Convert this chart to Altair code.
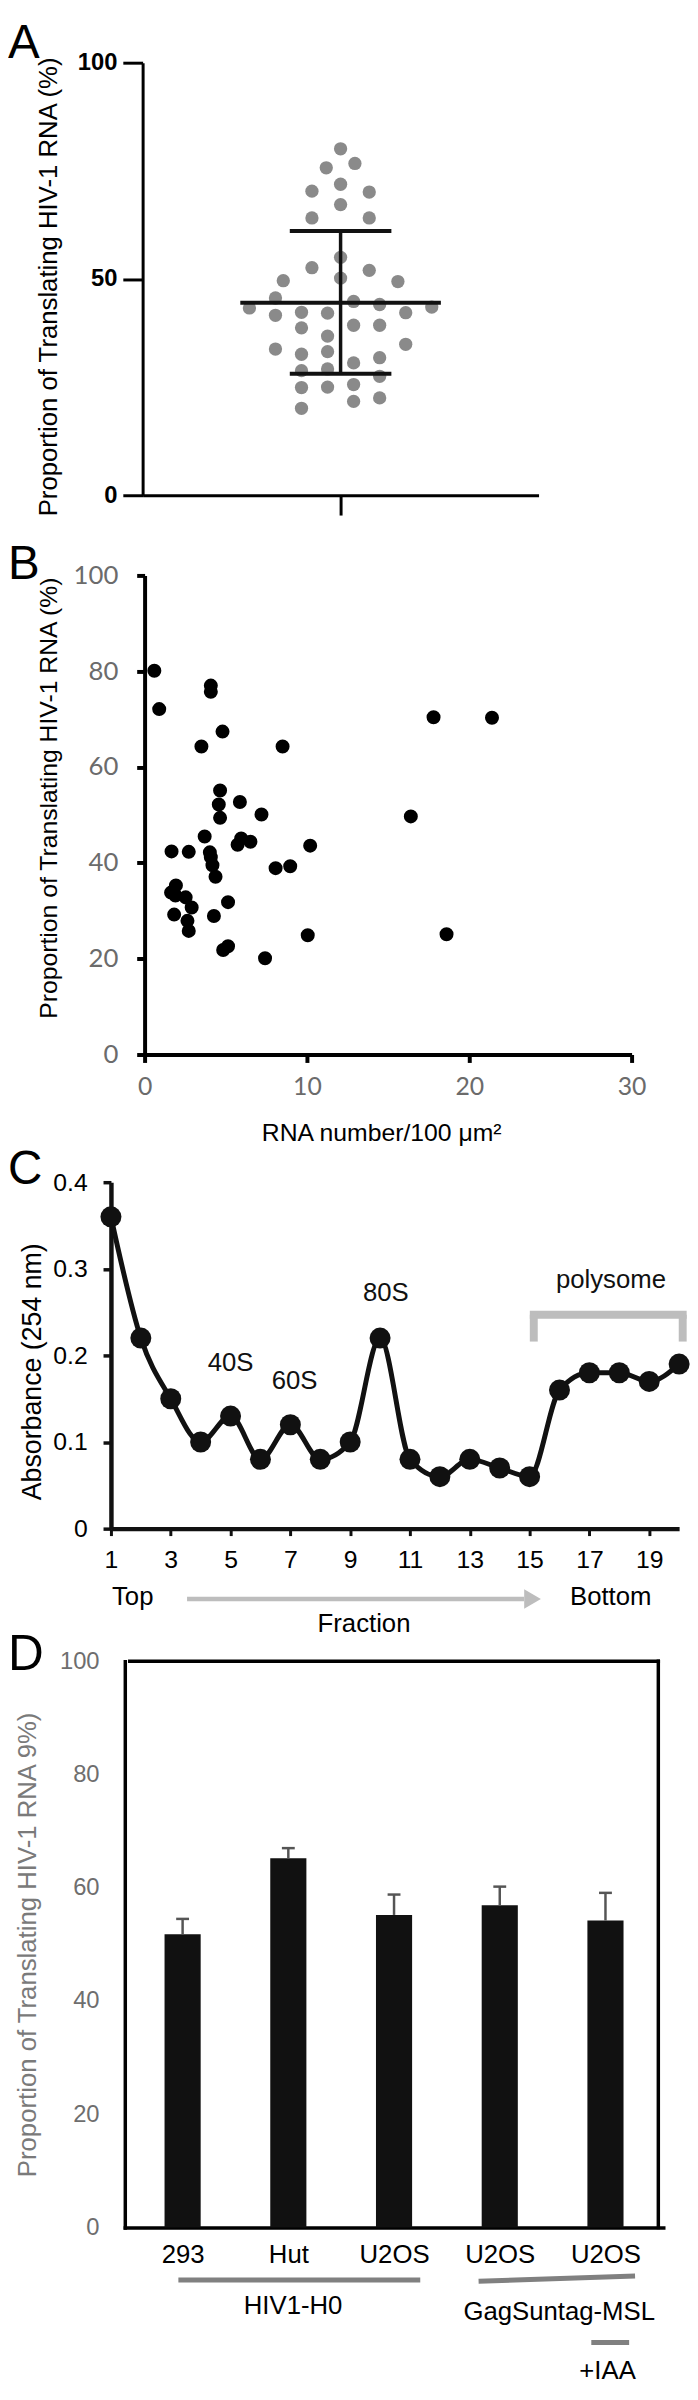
import json
import altair as alt
import pandas as pd

FONT = "Liberation Sans, Arial, Helvetica, sans-serif"
LATO = "Lato, Liberation Sans, sans-serif"

panel_letters = ["A", "B", "C", "D"]

# ---------------- Panel A : dot plot ----------------
a_values = [80.1, 75.7, 76.7, 70.3, 71.9, 70.1, 67.2, 64.1, 64.1, 55.0,
            52.6, 52.0, 49.6, 50.2, 49.4, 45.6, 43.3, 44.8, 44.1, 43.5,
            41.6, 42.3, 42.1, 42.2, 38.7, 39.3, 39.3, 36.8, 33.8, 34.9,
            32.6, 33.2, 30.6, 31.8, 28.8, 29.2, 27.5, 24.9, 25.0, 25.6,
            21.7, 22.5, 20.1]
a_column = [0, -0.55, 0.55, -1.1, 0, 1.1, 0, -1.1, 1.1, 0,
            -1.1, 1.1, -2.2, 0, 2.2, -2.5, -3.5, 0.5, 1.5, 3.5,
            -2.5, -1.5, -0.5, 2.5, -1.5, 0.5, 1.5, -0.5, -2.5, 2.5,
            -1.5, -0.5, 0.5, 1.5, -1.5, -0.5, 1.5, -1.5, -0.5, 0.5,
            0.5, 1.5, -1.5]
a_mean = 44.5
a_sd_hi = 61.1
a_sd_lo = 28.1
a_mean_half = 3.85
a_sd_half = 1.95

# ---------------- Panel B : scatter ----------------
b_density = [0.6, 0.9, 4.08, 4.08, 17.8, 21.4, 4.8, 3.5, 8.5, 4.65,
             5.87, 4.57, 7.2, 16.4, 4.65, 3.7, 5.95, 5.73, 6.52, 10.2,
             1.66, 2.72, 4.02, 4.08, 4.18, 8.07, 8.97, 4.37, 1.93, 1.63,
             1.9, 2.53, 2.9, 5.14, 1.82, 4.27, 2.64, 2.72, 10.05, 18.6,
             5.14, 4.84, 7.42]
b_prop = [80.1, 72.1, 77.0, 75.7, 70.4, 70.3, 67.4, 64.3, 64.3, 55.1,
          52.7, 52.2, 50.1, 49.7, 49.4, 45.5, 45.1, 43.8, 44.4, 43.6,
          42.4, 42.3, 42.2, 41.2, 39.5, 38.9, 39.3, 37.1, 35.3, 33.8,
          33.2, 32.8, 30.7, 31.8, 29.2, 28.9, 27.9, 25.8, 24.9, 25.1,
          22.6, 21.8, 20.1]

# ---------------- Panel C : polysome profile ----------------
c_fraction = list(range(1, 21))
c_absorb = [0.36, 0.22, 0.15, 0.10, 0.13, 0.08, 0.12, 0.08, 0.10, 0.22,
            0.08, 0.06, 0.08, 0.07, 0.06, 0.16, 0.18, 0.18, 0.17, 0.19]
c_peak_labels = ["40S", "60S", "80S", "polysome"]
c_peak_x = [5.0, 7.14, 10.19, 17.72]
c_peak_y = [0.191, 0.170, 0.272, 0.287]
c_bracket_x = [15.14, 20.12]
c_bracket_top = 0.247
c_bracket_bottom = 0.216
c_axis_notes = ["Top", "Fraction", "Bottom"]
c_axis_notes_x = [0.528, 2.716, 5.05]     # in panel D units (drawn above panel D)
c_axis_notes_y = [111.4, 106.6, 111.4]
c_arrow_x = [1.042, 4.23]
c_arrow_head_x = 4.31
c_arrow_y = 111.0

# ---------------- Panel D : bars ----------------
d_labels = ["293", "Hut", "U2OS", "U2OS", "U2OS"]
d_pos = [1, 2, 3, 4, 5]
d_values = [51.8, 65.2, 55.2, 56.9, 54.2]
d_err = [54.5, 67.0, 58.8, 60.2, 59.1]
d_group_labels = ["HIV1-H0", "GagSuntag-MSL", "+IAA"]
d_group_text_x = [2.045, 4.562, 5.02]
d_group_text_y = [-13.9, -15.0, -25.3]
d_group_line_x1 = [0.96, 3.80, 4.866]
d_group_line_x2 = [3.248, 5.28, 5.224]
d_group_line_y1 = [-9.27, -9.5, -20.3]
d_group_line_y2 = [-9.27, -8.57, -20.3]

W = 580
H_A, H_B, H_C, H_D = 512, 626, 438, 808
LETTER_X = -104


def letter_layer(ch, y, size=48):
    return alt.Chart(pd.DataFrame({"t": [ch]})).mark_text(
        align="left", baseline="top", font=FONT, fontSize=size, color="#000000"
    ).encode(text="t:N", x=alt.value(LETTER_X), y=alt.value(y))


# ================= Panel A =================
a_xs = alt.Scale(domain=[-7.6, 7.6], range=[32, 432])
a_ys = alt.Scale(domain=[0, 100], range=[480, 43])
a_xaxis = alt.Axis(values=[0], labels=False, title=None, tickSize=20, tickWidth=3,
                   tickColor="#000000", domainWidth=3, domainColor="#000000", offset=-32)
a_yaxis = alt.Axis(values=[0, 50, 100], title="Proportion of Translating HIV-1 RNA (%)",
                   titleFont=FONT, titleFontSize=26, titleFontWeight="normal", titleColor="#000000",
                   titleX=-95, titleY=269, titleAngle=270, titleBaseline="middle", titleAlign="center",
                   labelFont=FONT, labelFontSize=24, labelFontWeight="bold", labelColor="#000000",
                   labelPadding=6, tickSize=20, tickWidth=3, tickColor="#000000",
                   domainWidth=3, domainColor="#000000", offset=-32)

a_df = pd.DataFrame({"col": a_column, "pct": a_values})
a_points = alt.Chart(a_df).mark_circle(size=180, color="#8a8a8a", opacity=1).encode(
    x=alt.X("col:Q", scale=a_xs, axis=a_xaxis),
    y=alt.Y("pct:Q", scale=a_ys, axis=a_yaxis),
)
a_h_df = pd.DataFrame({"col": [-a_mean_half, -a_sd_half, -a_sd_half],
                       "col2": [a_mean_half, a_sd_half, a_sd_half],
                       "pct": [a_mean, a_sd_hi, a_sd_lo]})
a_hlines = alt.Chart(a_h_df).mark_rule(color="#111111", strokeWidth=4).encode(
    x=alt.X("col:Q", scale=a_xs, axis=a_xaxis), x2="col2:Q",
    y=alt.Y("pct:Q", scale=a_ys, axis=a_yaxis))
a_v_df = pd.DataFrame({"col": [0], "pct": [a_sd_lo], "pct2": [a_sd_hi]})
a_vline = alt.Chart(a_v_df).mark_rule(color="#111111", strokeWidth=3.5).encode(
    x=alt.X("col:Q", scale=a_xs, axis=a_xaxis),
    y=alt.Y("pct:Q", scale=a_ys, axis=a_yaxis), y2="pct2:Q")

panel_a = alt.layer(a_points, a_vline, a_hlines, letter_layer(panel_letters[0], 0)).properties(
    width=W, height=H_A)

# ================= Panel B =================
b_xs = alt.Scale(domain=[0, 30], range=[34, 526])
b_ys = alt.Scale(domain=[0, 100], range=[533, 49])
b_df = pd.DataFrame({"density": b_density, "prop": b_prop})
b_points = alt.Chart(b_df).mark_circle(size=200, color="#000000", opacity=1).encode(
    x=alt.X("density:Q", scale=b_xs, axis=alt.Axis(
        values=[0, 10, 20, 30], title="RNA number/100 \u03bcm\u00b2",
        titleFont=FONT, titleFontSize=25, titleFontWeight="normal", titleColor="#000000",
        titleX=273, titleY=79, titleBaseline="middle", titleAlign="center",
        labelFont=LATO, labelFontSize=25, labelColor="#6b6b6b", labelPadding=12,
        tickSize=8, tickWidth=4, tickColor="#000000",
        domainWidth=4, domainColor="#000000", offset=-93)),
    y=alt.Y("prop:Q", scale=b_ys, axis=alt.Axis(
        values=[0, 20, 40, 60, 80, 100], title="Proportion of Translating HIV-1 RNA (%)",
        titleFont=FONT, titleFontSize=25, titleFontWeight="normal", titleColor="#000000",
        titleX=-97, titleY=273.5, titleAngle=270, titleBaseline="middle", titleAlign="center",
        labelFont=LATO, labelFontSize=26, labelColor="#6b6b6b", labelPadding=19,
        tickSize=8, tickWidth=4, tickColor="#000000",
        domainWidth=4, domainColor="#000000", offset=-34)),
)
panel_b = alt.layer(b_points, letter_layer(panel_letters[1], 14.5)).properties(width=W, height=H_B)

# ================= Panel C =================
c_xs = alt.Scale(domain=[1, 20], range=[0, 574])
c_ys = alt.Scale(domain=[0, 0.4], range=[386, 36])
c_xaxis = alt.Axis(values=list(range(1, 20, 2)), title=None,
                   labelFont=FONT, labelFontSize=25, labelColor="#000000", labelPadding=12,
                   tickSize=7, tickWidth=3, tickColor="#111111",
                   domainWidth=4.5, domainColor="#111111", offset=-52)
c_yaxis = alt.Axis(values=[0, 0.1, 0.2, 0.3, 0.4], format=".1~f", title="Absorbance (254 nm)",
                   titleFont=FONT, titleFontSize=27, titleFontWeight="normal", titleColor="#000000",
                   titleX=-79, titleY=227, titleAngle=270, titleBaseline="middle", titleAlign="center",
                   labelFont=FONT, labelFontSize=25, labelColor="#000000", labelPadding=16,
                   tickSize=8, tickWidth=3.5, tickColor="#111111",
                   domainWidth=4.5, domainColor="#111111")

c_df = pd.DataFrame({"fraction": c_fraction, "absorb": c_absorb})
c_line = alt.Chart(c_df).mark_line(color="#111111", strokeWidth=5, interpolate="monotone").encode(
    x=alt.X("fraction:Q", scale=c_xs, axis=c_xaxis),
    y=alt.Y("absorb:Q", scale=c_ys, axis=c_yaxis),
)
c_pts = alt.Chart(c_df).mark_circle(size=450, color="#111111", opacity=1).encode(
    x=alt.X("fraction:Q", scale=c_xs, axis=c_xaxis),
    y=alt.Y("absorb:Q", scale=c_ys, axis=c_yaxis))
c_lab_df = pd.DataFrame({"t": c_peak_labels, "fraction": c_peak_x, "absorb": c_peak_y})
c_labels = alt.Chart(c_lab_df).mark_text(font=FONT, fontSize=26, color="#111111",
                                         baseline="middle", align="center").encode(
    x=alt.X("fraction:Q", scale=c_xs, axis=c_xaxis),
    y=alt.Y("absorb:Q", scale=c_ys, axis=c_yaxis), text="t:N")
c_br_h_df = pd.DataFrame({"fraction": [c_bracket_x[0]], "fraction2": [c_bracket_x[1]],
                          "absorb": [c_bracket_top]})
c_br_h = alt.Chart(c_br_h_df).mark_rule(color="#bdbdbd", strokeWidth=8, strokeCap="square").encode(
    x=alt.X("fraction:Q", scale=c_xs, axis=c_xaxis), x2="fraction2:Q",
    y=alt.Y("absorb:Q", scale=c_ys, axis=c_yaxis))
c_br_v_df = pd.DataFrame({"fraction": c_bracket_x, "absorb": [c_bracket_top] * 2,
                          "absorb2": [c_bracket_bottom] * 2})
c_br_v = alt.Chart(c_br_v_df).mark_rule(color="#bdbdbd", strokeWidth=8).encode(
    x=alt.X("fraction:Q", scale=c_xs, axis=c_xaxis),
    y=alt.Y("absorb:Q", scale=c_ys, axis=c_yaxis), y2="absorb2:Q")

panel_c = alt.layer(c_line, c_pts, c_labels, c_br_h, c_br_v,
                    letter_layer(panel_letters[2], 0)).properties(width=W, height=H_C)

# ================= Panel D =================
d_xs = alt.Scale(domain=[0.5, 5.5], range=[14, 558])
d_ys = alt.Scale(domain=[0, 100], range=[654, 82])
label_expr = json.dumps(d_labels) + "[datum.value - 1]"
d_xaxis = alt.Axis(values=d_pos, labelExpr=label_expr, title=None,
                   labelFont=FONT, labelFontSize=26, labelColor="#000000", labelPadding=14,
                   ticks=False, tickSize=0, domainWidth=3.5, domainColor="#000000",
                   domainCap="square", offset=-154)
d_yaxis = alt.Axis(values=[0, 20, 40, 60, 80, 100], title="Proportion of Translating HIV-1 RNA 9%)",
                   titleFont=FONT, titleFontSize=26, titleFontWeight="normal", titleColor="#7a7a7a",
                   titleX=-98, titleY=368, titleAngle=270, titleBaseline="middle", titleAlign="center",
                   labelFont=FONT, labelFontSize=24, labelColor="#6e6e6e", labelPadding=26,
                   ticks=False, tickSize=0, domainWidth=3.5, domainColor="#000000",
                   domainCap="square", offset=-14)


def dx(field):
    return alt.X(field, scale=d_xs, axis=d_xaxis)


def dy(field):
    return alt.Y(field, scale=d_ys, axis=d_yaxis)


d_df = pd.DataFrame({"pos": d_pos, "label": d_labels, "value": d_values, "err": d_err})
d_bars = alt.Chart(d_df).mark_bar(size=36.5, color="#111111", orient="vertical").encode(
    x=dx("pos:Q"), y=dy("value:Q"))
d_err_rule = alt.Chart(d_df).mark_rule(color="#555555", strokeWidth=2.5).encode(
    x=dx("pos:Q"), y=dy("value:Q"), y2="err:Q")
d_err_cap = alt.Chart(d_df.rename(columns={"value": "v0", "err": "value"})).mark_tick(
    orient="horizontal", size=13, thickness=2.5, color="#555555", opacity=1).encode(
    x=dx("pos:Q"), y=dy("value:Q"))

d_top_df = pd.DataFrame({"pos": [d_xs.domain[0]], "pos2": [d_xs.domain[1]], "value": [d_ys.domain[1]]})
d_top = alt.Chart(d_top_df).mark_rule(color="#000000", strokeWidth=3.5, strokeCap="square").encode(
    x=dx("pos:Q"), x2="pos2:Q", y=dy("value:Q"))
d_right_df = pd.DataFrame({"pos": [d_xs.domain[1]], "value": [d_ys.domain[0]], "value2": [d_ys.domain[1]]})
d_right = alt.Chart(d_right_df).mark_rule(color="#000000", strokeWidth=3.5, strokeCap="square").encode(
    x=dx("pos:Q"), y=dy("value:Q"), y2="value2:Q")

d_gl_df = pd.DataFrame({"pos": d_group_line_x1, "pos2": d_group_line_x2,
                        "value": d_group_line_y1, "value2": d_group_line_y2})
d_glines = alt.Chart(d_gl_df).mark_rule(color="#808080", strokeWidth=5).encode(
    x=dx("pos:Q"), x2="pos2:Q", y=dy("value:Q"), y2="value2:Q")
d_gt_df = pd.DataFrame({"t": d_group_labels, "pos": d_group_text_x, "value": d_group_text_y})
d_gtext = alt.Chart(d_gt_df).mark_text(font=FONT, fontSize=26, color="#000000",
                                       baseline="middle", align="center").encode(
    x=dx("pos:Q"), y=dy("value:Q"), text="t:N")

# "Top -> Fraction -> Bottom" notes under panel C (placed in the band above panel D)
n_df = pd.DataFrame({"t": c_axis_notes, "pos": c_axis_notes_x, "value": c_axis_notes_y})
n_text = alt.Chart(n_df).mark_text(font=FONT, fontSize=26, color="#000000",
                                   baseline="middle", align="center").encode(
    x=dx("pos:Q"), y=dy("value:Q"), text="t:N")
arr_df = pd.DataFrame({"pos": [c_arrow_x[0]], "pos2": [c_arrow_x[1]], "value": [c_arrow_y]})
arr_line = alt.Chart(arr_df).mark_rule(color="#bdbdbd", strokeWidth=4.5).encode(
    x=dx("pos:Q"), x2="pos2:Q", y=dy("value:Q"))
head_df = pd.DataFrame({"pos": [c_arrow_head_x], "value": [c_arrow_y]})
arr_head = alt.Chart(head_df).mark_point(shape="triangle-right", filled=True, size=380,
                                         color="#bdbdbd", opacity=1).encode(
    x=dx("pos:Q"), y=dy("value:Q"))

panel_d = alt.layer(d_bars, d_err_rule, d_err_cap, d_top, d_right, d_glines, d_gtext,
                    n_text, arr_line, arr_head,
                    letter_layer(panel_letters[3], 51, 50)).properties(width=W, height=H_D)

chart = alt.vconcat(panel_a, panel_b, panel_c, panel_d, spacing=0).properties(
    padding={"left": 0, "top": 0, "right": 0, "bottom": 0}
).configure_view(strokeWidth=0).configure_axis(grid=False, labelFlush=False, labelOverlap=False)

chart.save("out.html", embed_options={"renderer": "svg", "actions": False})
